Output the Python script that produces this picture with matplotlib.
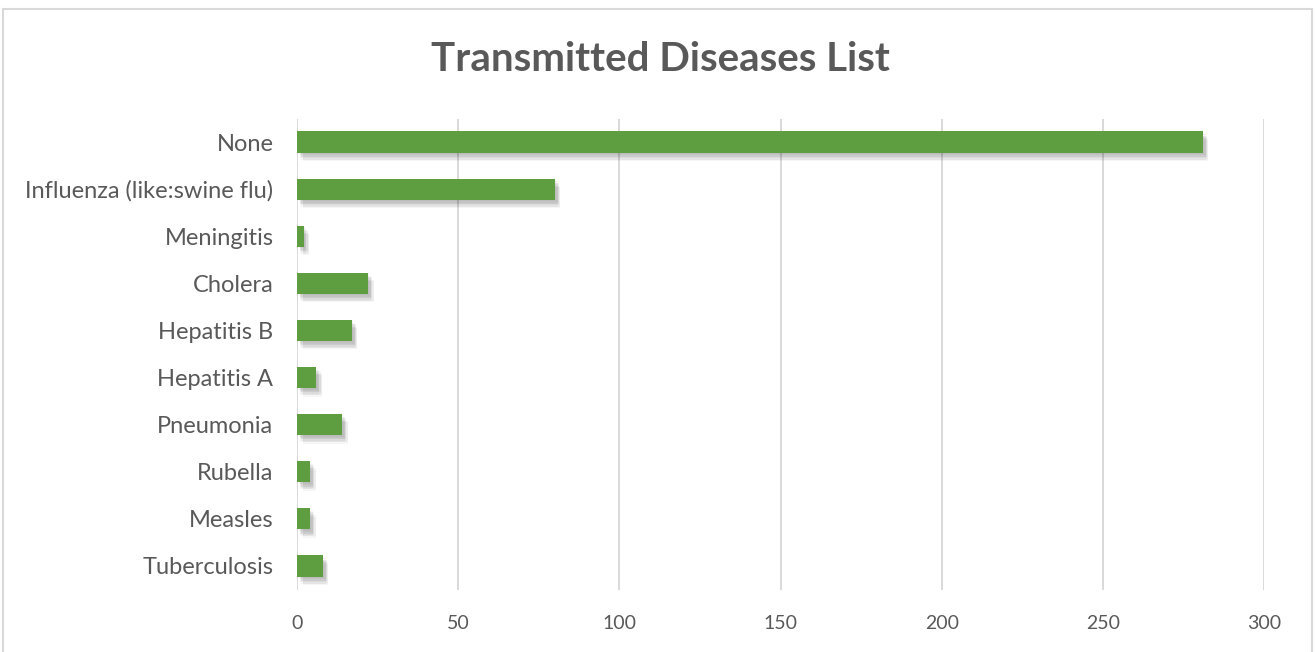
import numpy as np
import matplotlib
matplotlib.use("Agg")
from matplotlib import pyplot as plt
from matplotlib import patheffects as pe
from matplotlib.patches import Rectangle

# data
diseases = ["None", "Influenza (like:swine flu)", "Meningitis", "Cholera",
            "Hepatitis B", "Hepatitis A", "Pneumonia", "Rubella", "Measles",
            "Tuberculosis"]
counts = [281, 80, 2, 22, 17, 6, 14, 4, 4, 8]
x_ticks = [0, 50, 100, 150, 200, 250, 300]

text_color = "#595959"
bar_color = "#5f9e40"
grid_color = "#d9d9d9"

plt.rcParams["font.family"] = ["Lato", "DejaVu Sans"]

fig = plt.figure(figsize=(13.15, 6.52), dpi=100)
ax = fig.add_axes([0.2259, 0.0958, 0.7353, 0.7224])

# soft drop shadow made of stacked offsets
shadow = [pe.SimplePatchShadow(offset=(dx, -dy), shadow_rgbFace="black", alpha=0.035)
          for dx, dy in [(1, 1), (2, 2), (2, 3), (3, 3), (3, 4), (4, 5), (2, 5), (4, 6)]]
y = np.arange(len(diseases))
ax.barh(y, counts, height=0.45, color=bar_color, zorder=3,
        path_effects=shadow + [pe.Normal()])

ax.set_ylim(len(diseases) - 0.5, -0.5)
ax.set_xlim(0, 300)
ax.set_xticks(x_ticks)
ax.set_yticks(y)
ax.set_yticklabels(diseases)
ax.tick_params(axis="both", length=0, colors=text_color)
ax.tick_params(axis="x", pad=18, labelsize=14)
ax.tick_params(axis="y", pad=17, labelsize=17)
ax.xaxis.grid(True, color=grid_color, linewidth=1.4, zorder=0)
ax.set_axisbelow(True)
for s in ax.spines.values():
    s.set_visible(False)

fig.text(0.502, 0.908, "Transmitted Diseases List", ha="center", va="center",
         fontsize=29, fontweight="bold", color=text_color)

# chart border
fig.patches.append(Rectangle((3 / 1315, -0.05), 1309 / 1315, 1.05 - 9 / 652,
                             transform=fig.transFigure, fill=False,
                             edgecolor=grid_color, linewidth=1.5))

fig.savefig("out.png", dpi=100, facecolor="white")
